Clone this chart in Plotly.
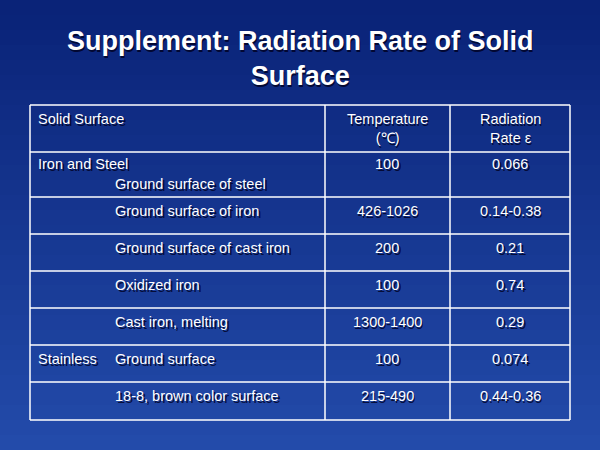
import plotly.graph_objects as go

TITLE = "Supplement: Radiation Rate of Solid<br>Surface"
headers = ["Solid Surface", "Temperature<br>(℃)", "Radiation<br>Rate ε"]
groups = ["Iron and Steel", "", "", "", "", "Stainless", ""]
surfaces = ["Ground surface of steel", "Ground surface of iron", "Ground surface of cast iron",
            "Oxidized iron", "Cast iron, melting", "Ground surface", "18-8, brown color surface"]
temps = ["100", "426-1026", "200", "100", "1300-1400", "100", "215-490"]
rates = ["0.066", "0.14-0.38", "0.21", "0.74", "0.29", "0.074", "0.44-0.36"]

col_x = [30, 325, 450, 570]
row_y = [105, 152, 197, 234, 271, 308, 345, 382, 420]

fig = go.Figure()
shapes = []
# background gradient bands
n = 30
for i in range(n):
    t = i / (n - 1)
    r, g, b = int(10 + 25 * t), int(35 + 40 * t), int(120 + 50 * t)
    shapes.append(dict(type="rect", xref="x", yref="y", x0=0, x1=600,
                       y0=450 * i / n, y1=450 * (i + 1) / n + 1,
                       fillcolor=f"rgb({r},{g},{b})", line_width=0, layer="below"))
for x in col_x:
    shapes.append(dict(type="line", x0=x, x1=x, y0=row_y[0], y1=row_y[-1],
                       line=dict(color="white", width=1.5)))
for y in row_y:
    shapes.append(dict(type="line", x0=col_x[0], x1=col_x[-1], y0=y, y1=y,
                       line=dict(color="white", width=1.5)))

ann = []
def txt(x, y, s, size=14.5, anchor="left", bold=False, valign="top", lh=None):
    for dx, dy, c in [(1.5, 1.5, "rgba(0,0,30,0.8)"), (0, 0, "white")]:
        ann.append(dict(x=x + dx, y=y + dy, xref="x", yref="y", text=f"<b>{s}</b>" if bold else s,
                        showarrow=False, xanchor=anchor, yanchor=valign,
                        font=dict(family="Arial, Liberation Sans", size=size, color=c)))

txt(300, 24, TITLE, size=27, anchor="center", bold=True)
txt(36, 109, headers[0])
txt(387, 109, headers[1], anchor="center")
txt(510, 109, headers[2], anchor="center")
for i in range(len(surfaces)):
    y0 = row_y[i + 1]
    if i == 0:
        txt(36, y0 + 2, groups[i])
        txt(113, y0 + 22, surfaces[i])
    else:
        if groups[i]:
            txt(36, y0 + 4, groups[i])
        txt(113, y0 + 4, surfaces[i])
    txt(387, y0 + 2 if i == 0 else y0 + 4, temps[i], anchor="center")
    txt(510, y0 + 2 if i == 0 else y0 + 4, rates[i], anchor="center")

fig.update_layout(width=600, height=450, margin=dict(l=0, r=0, t=0, b=0),
                  shapes=shapes, annotations=ann, showlegend=False,
                  paper_bgcolor="#12358f", plot_bgcolor="#12358f",
                  xaxis=dict(range=[0, 600], visible=False, fixedrange=True),
                  yaxis=dict(range=[450, 0], visible=False, fixedrange=True))
fig.write_html("out.html", config={"displayModeBar": False},
               post_script="document.body.style.margin='0';document.body.style.background='#12358f';")
